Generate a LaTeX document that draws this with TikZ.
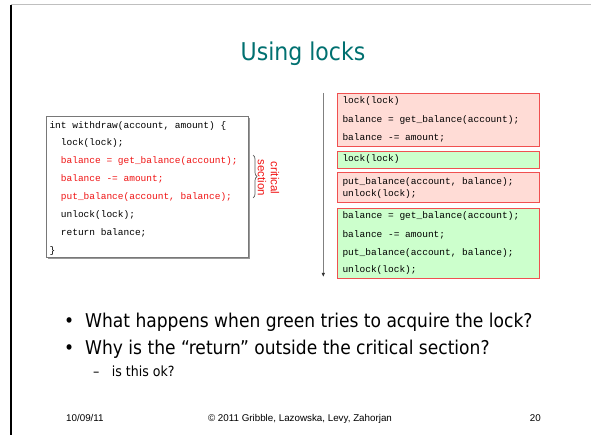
\documentclass[tikz,border=0pt]{standalone}
\usepackage{fontspec}
\setmainfont{Liberation Sans}
\setmonofont{Liberation Mono}
\newfontfamily\tahoma{DejaVu Sans Condensed}
\usetikzlibrary{arrows.meta,decorations.pathreplacing,shadows}
\definecolor{titleteal}{RGB}{0,112,112}
\definecolor{codered}{RGB}{240,20,20}
\definecolor{redfill}{RGB}{255,220,214}
\definecolor{greenfill}{RGB}{204,255,204}
\definecolor{boxline}{RGB}{240,80,80}
\definecolor{framegray}{RGB}{120,120,120}
\begin{document}
\begin{tikzpicture}[x=1pt,y=-1pt,
  codetxt/.style={anchor=base west, inner sep=0pt, font=\fontsize{9.5}{11}\selectfont\ttfamily},
  redcode/.style={codetxt, text=codered},
  redbox/.style={draw=boxline, fill=redfill, line width=0.8pt, anchor=north west, inner sep=0pt, minimum width=202pt},
  greenbox/.style={draw=boxline, fill=greenfill, line width=0.8pt, anchor=north west, inner sep=0pt, minimum width=202pt},
  codebox/.style={draw=framegray, fill=white, line width=0.8pt, anchor=north west, inner sep=0pt, minimum width=202pt, minimum height=141pt,
     drop shadow={shadow xshift=1.6pt, shadow yshift=-1.6pt, fill=gray!80, opacity=1}},
  bullettxt/.style={anchor=base west, inner sep=0pt, font=\fontsize{19}{22}\selectfont\tahoma},
  subtxt/.style={anchor=base west, inner sep=0pt, font=\fontsize{14}{17}\selectfont\tahoma},
  foot/.style={anchor=base, inner sep=0pt, font=\fontsize{9.8}{12}\selectfont},
]
\useasboundingbox (0,0) rectangle (591,435);
% slide frame
\coordinate (fl1) at (11,5);
\coordinate (fl2) at (11,435);
\coordinate (ft1) at (11,4.5);
\coordinate (ft2) at (591,4.5);
\draw[line width=1.4pt, black] (fl1) -- (fl2);
\draw[line width=0.9pt, gray!50] (ft1) -- (ft2);

% title
\node[inner sep=0pt, anchor=base, font=\fontsize{24.5}{29}\selectfont\tahoma, text=titleteal] (title) at (303,60.7) {Using locks};

% left code box
\node[codebox] (cb) at (46,116) {};
\node[codetxt] (c1) at (49.3,128.7) {int withdraw(account, amount) \{};
\node[codetxt] (c2) at (60.7,146) {lock(lock);};
\node[redcode] (c3) at (60.7,164) {balance = get\_balance(account);};
\node[redcode] (c4) at (60.7,182) {balance -= amount;};
\node[redcode] (c5) at (60.7,200) {put\_balance(account, balance);};
\node[codetxt] (c6) at (60.7,218) {unlock(lock);};
\node[codetxt] (c7) at (60.7,236) {return balance;};
\node[codetxt] (c8) at (49.3,253.7) {\}};

% brace and label
\coordinate (bt) at (253,155);
\coordinate (bb) at (253,198);
\draw[gray!70!black, line width=0.7pt, decorate, decoration={brace, amplitude=4pt}] (bt) -- (bb);
\node[rotate=-90, align=center, inner sep=0pt, text=codered, font=\fontsize{11.5}{13}\selectfont] (crit) at (268.5,178) {critical\\section};

% timeline arrow
\coordinate (ts) at (323.3,93);
\coordinate (te) at (323.3,277);
\draw[gray, line width=1.1pt, -{Latex[length=4pt,width=3.5pt,color=black!80]}] (ts) -- (te);

% right boxes
\node[redbox, minimum height=52.4pt] (r1) at (336.7,93.3) {};
\node[codetxt] (r1a) at (342.3,103.7) {lock(lock)};
\node[codetxt] (r1b) at (342.3,122.3) {balance = get\_balance(account);};
\node[codetxt] (r1c) at (342.3,140.3) {balance -= amount;};

\node[greenbox, minimum height=17pt] (g1) at (336.7,150.7) {};
\node[codetxt] (g1a) at (342.3,162) {lock(lock)};

\node[redbox, minimum height=30pt] (r2) at (336.7,172.3) {};
\node[codetxt] (r2a) at (342.3,184.7) {put\_balance(account, balance);};
\node[codetxt] (r2b) at (342.3,197) {unlock(lock);};

\node[greenbox, minimum height=70pt] (g2) at (336.7,208.3) {};
\node[codetxt] (g2a) at (342.3,219) {balance = get\_balance(account);};
\node[codetxt] (g2b) at (342.3,237.3) {balance -= amount;};
\node[codetxt] (g2c) at (342.3,255.3) {put\_balance(account, balance);};
\node[codetxt] (g2d) at (342.3,273) {unlock(lock);};

% bullets
\node[bullettxt] (b1d) at (64,327) {•};
\node[bullettxt] (b1) at (85,327) {What happens when green tries to acquire the lock?};
\node[bullettxt] (b2d) at (64,354) {•};
\node[bullettxt] (b2) at (85,354) {Why is the “return” outside the critical section?};
\node[subtxt] (s1d) at (93,376.5) {–};
\node[subtxt] (s1) at (111.7,376.5) {is this ok?};

% footer
\node[foot, anchor=base west] (date) at (66,421.7) {10/09/11};
\node[foot] (copy) at (300,421.7) {© 2011 Gribble, Lazowska, Levy, Zahorjan};
\node[foot, anchor=base east] (page) at (541,421.7) {20};
\end{tikzpicture}
\end{document}
